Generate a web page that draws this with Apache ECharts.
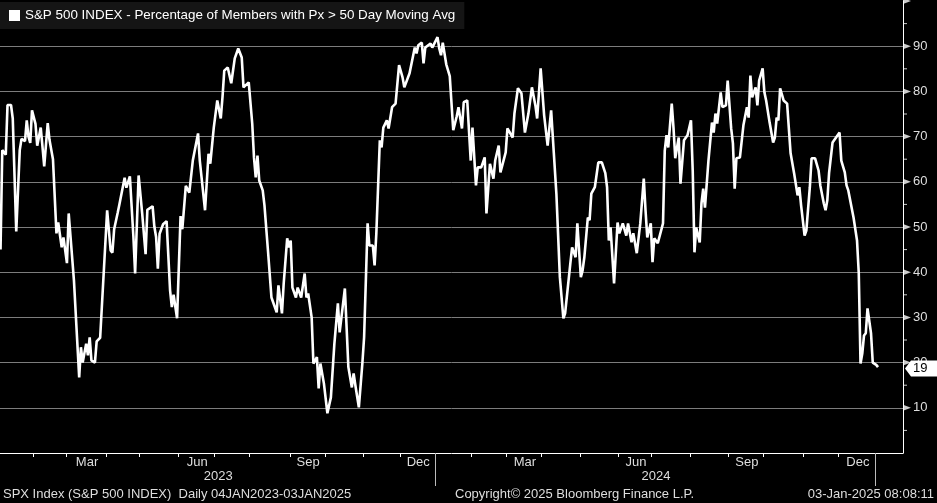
<!DOCTYPE html>
<html><head><meta charset="utf-8">
<script src="https://cdn.jsdelivr.net/npm/echarts@6/dist/echarts.min.js"></script>
<style>html,body{margin:0;padding:0;background:#000}#c{width:937px;height:503px}</style>
</head><body><div id="c"></div><script>
const seriesName = 'S&P 500 INDEX - Percentage of Members with Px > 50 Day Moving Avg';
// trading-day index (0 = 04 Jan 2023) of each value
const dayIndex = [0,1,3,4,6,7,9,11,12,14,15,16,17,18,20,21,23,24,25,27,28,30,32,33,35,36,38,39,42,45,46,47,49,50,51,52,54,55,57,61,63,64,65,67,68,71,72,74,76,77,79,81,83,84,87,88,89,90,91,93,95,97,98,99,101,103,104,106,108,110,113,114,117,119,120,122,124,126,127,128,130,132,134,136,138,139,142,144,145,146,147,148,150,151,153,155,156,158,159,161,162,164,165,166,167,169,170,172,174,175,176,178,179,181,182,183,185,187,189,191,193,194,197,199,201,202,203,205,207,208,210,211,213,214,215,217,218,219,221,222,224,226,228,230,231,234,237,238,239,241,242,243,246,247,250,251,252,253,255,257,259,261,262,264,265,267,269,270,272,273,275,277,278,280,282,283,285,286,289,290,293,294,296,298,300,302,304,306,307,309,311,313,315,318,320,322,323,326,327,329,330,332,333,334,336,337,338,340,342,344,346,347,348,349,351,353,354,356,358,359,361,362,364,366,368,369,370,372,373,374,376,377,379,380,381,382,384,385,386,388,389,391,393,395,396,397,398,400,401,402,403,405,407,408,409,410,412,413,415,416,418,419,420,421,423,425,427,428,429,430,432,433,434,436,437,438,440,442,443,444,445,446,448,449,450,452,454,456,457,458,460,461,463,464,466,468,469,471,472,473,474,476,478,480,481,483,484,485,488,490,491,492,493,494,495,496,497,498,499,500,501,502];
const pctAbove = [45,67,66,77,77,74,49,67,69.5,69,73.6,70,68.6,75.8,72.8,68,72,67.8,63.4,73,69.3,65,48.6,51,45.5,47.7,42,53,38.2,16.7,23.4,20,24.2,21.6,25.6,20.5,20,24.7,25.5,53.7,44.8,44.3,49.5,53.1,55,60.9,58.7,61.2,48,39.7,61.4,53.2,44,53.8,54.6,50.1,47.8,40.8,48.5,50.6,51.3,36,32.3,35,29.8,52.4,49.5,59.1,57.6,64.7,70.7,64.7,53.7,66.2,64,72,78,74,78.8,84.6,85.3,81.8,87.3,89.5,87.5,80.9,82,72.9,65.4,61,65.8,60.3,58.1,54.8,44.8,34.4,34.2,31.1,37.1,30.9,37.5,47.5,45.5,47,36.6,34.4,36.6,34.4,39.7,34.4,35.3,30,19.8,21.2,14.3,19.8,15.4,8.8,12.3,24.2,33.1,26.7,36.4,19,14.5,17.6,15,10.1,19.8,25.6,50.8,45.9,45.9,41.5,48.6,69.2,67.6,72,73.6,71.8,76.5,77.3,85.8,83.1,80.9,84,89.7,88.4,90.2,90.8,86.2,89.7,90.6,89.7,92,89.5,88,90.8,86,83.4,71.4,74.5,76.5,71.8,77.6,78,64.7,72,59.2,63.2,63.2,65.4,53,64,60.7,64.7,68,62.1,66.5,71.8,69.8,75.1,80.7,79.6,70.9,75.1,80.9,76.9,74,85.1,74.7,68,75.8,57.4,38.9,29.8,30.9,42,45.5,43.3,50.8,38.9,40.4,43.3,52.1,51.5,57.4,58.8,64.3,64.3,61.9,58.8,47,49.9,37.5,51,48.6,50.8,48.1,50.8,46.6,48.6,44.2,50.8,60.7,53.7,47.7,50.8,42.2,47.5,46.4,46,50.8,66.9,70.3,67.6,77.3,72,65.2,69.8,59.6,69.2,70.3,73.6,62.5,44.4,49.9,46.6,55.2,58.5,54.3,64.7,73.1,70.9,75.1,72.9,79.8,76.5,76.9,82.4,71.8,68.5,58.5,65.2,65.4,72.5,76.5,74.2,83.5,78.7,80.9,76.9,82.4,85.1,79.8,78,73.1,68.7,69.8,74.2,73.6,80.7,78,77.6,77.3,66.3,61.9,57,58.8,54.8,48.1,49.2,58.8,65.2,65.2,62.5,59.2,55.2,53.7,55.9,61.9,68.7,69.8,70.9,64.7,62.1,59.2,58.1,52.1,47,39.7,19.8,22,26,26.5,32,32,26.5,20,19.8,19.5,19];
// trading-day index of the first session of each month (Feb 2023 .. Jan 2025)
const monthStartIndex = [19,38,61,80,102,123,143,166,186,208,229,249,270,290,310,332,354,373,395,417,437,460,480,501];
const monthLabelIndex = [49.5,112.5,176,239,300,363.5,427,490.5];
const monthLabels = ['Mar','Jun','Sep','Dec','Mar','Jun','Sep','Dec'];
const yearStartIndex = [249,501];
const yearLabelIndex = [124.5,375];
const yearLabels = ['2023','2024'];
const yTickValues = [10,20,30,40,50,60,70,80,90,100];
const yMinorTickValues = [5,15,25,35,45,55,65,75,85,95];
const lastValue = 19;
const footerLeft = 'SPX Index (S&P 500 INDEX)  Daily 04JAN2023-03JAN2025';
const footerMid = 'Copyright\u00A9 2025 Bloomberg Finance L.P.';
const footerRight = '03-Jan-2025 08:08:11';

const X_MIN = -0.3, X_MAX = 516.3;
const FONT = "'Liberation Sans', Arial, sans-serif";
const TXT = '#dedede';
const chart = echarts.init(document.getElementById('c'));
const lineData = dayIndex.map((d, i) => [d, pctAbove[i]]);

chart.setOption({
  backgroundColor: '#000',
  animation: false,
  textStyle: { fontFamily: FONT },
  legend: {
    data: [seriesName], left: 0, top: 2, icon: 'rect', itemWidth: 11, itemHeight: 11,
    backgroundColor: '#151515', padding: [7, 9, 7, 9],
    textStyle: { color: '#fff', fontSize: 13.4, fontFamily: FONT }
  },
  grid: { left: 0, right: 34, top: 1, bottom: 50 },
  xAxis: [{
    type: 'value', min: X_MIN, max: X_MAX, position: 'bottom', offset: 0,
    axisLine: { show: true, onZero: false, lineStyle: { color: '#fff', width: 1 } },
    axisTick: { show: true, length: 4, customValues: monthStartIndex.map(v => v - 0.5), lineStyle: { color: '#fff' } },
    axisLabel: { show: true, margin: 3, color: TXT, fontSize: 13, fontFamily: FONT,
      customValues: monthLabelIndex,
      formatter: v => { const i = monthLabelIndex.indexOf(v); return i >= 0 ? monthLabels[i] : ''; } },
    splitLine: { show: false }
  }, {
    type: 'value', min: X_MIN, max: X_MAX, position: 'bottom', offset: 0,
    axisLine: { show: false, onZero: false },
    axisTick: { show: true, length: 33, customValues: yearStartIndex.map(v => v - 0.5), lineStyle: { color: '#bbb' } },
    axisLabel: { show: true, margin: 17, color: TXT, fontSize: 13, fontFamily: FONT,
      customValues: yearLabelIndex,
      formatter: v => { const i = yearLabelIndex.indexOf(v); return i >= 0 ? yearLabels[i] : ''; } },
    splitLine: { show: false }
  }],
  yAxis: {
    type: 'value', position: 'right', min: 0, max: 100, interval: 10,
    axisLine: { show: true, onZero: false, lineStyle: { color: '#fff', width: 1 } },
    axisTick: { show: false },
    splitLine: { show: true, showMinLine: false, showMaxLine: false, lineStyle: { color: '#7c7c7c', width: 1 } },
    axisLabel: { color: TXT, fontSize: 13, margin: 10, fontFamily: FONT,
      formatter: v => (v === 0 || v === 100) ? '' : String(v) }
  },
  series: [{
    name: seriesName, type: 'line', data: lineData, showSymbol: false,
    lineStyle: { color: '#fff', width: 2.6 }, itemStyle: { color: '#fff' }, z: 3
  }, {
    name: 'ticks', type: 'scatter', data: yTickValues.map(v => [X_MAX, v]),
    symbol: 'path://M0,0L10,5L0,10Z', symbolSize: [8, 6], symbolOffset: [4, 0],
    itemStyle: { color: '#fff' }, clip: false, silent: true, z: 4
  }, {
    name: 'minor', type: 'scatter', data: yMinorTickValues.map(v => [X_MAX, v]),
    symbol: 'rect', symbolSize: [4, 1], symbolOffset: [2, 0],
    itemStyle: { color: '#fff' }, clip: false, silent: true, z: 4
  }]
});

const p = chart.convertToPixel({ gridIndex: 0 }, [X_MAX, lastValue]);
const px = p[0], py = p[1] + 1.5;
chart.setOption({
  graphic: [
    { type: 'polygon', z: 100, shape: { points: [[px + 2, py], [px + 8, py - 8], [937, py - 8], [937, py + 8], [px + 8, py + 8]] },
      style: { fill: '#fff' } },
    { type: 'text', z: 101, x: px + 10, y: py, style: { text: String(lastValue), fill: '#000', fontSize: 13, fontFamily: FONT, verticalAlign: 'middle' } },
    { type: 'text', x: 3, y: 494, style: { text: footerLeft, fill: TXT, fontSize: 13, fontFamily: FONT, verticalAlign: 'middle' } },
    { type: 'text', x: 455, y: 494, style: { text: footerMid, fill: TXT, fontSize: 13, fontFamily: FONT, verticalAlign: 'middle' } },
    { type: 'text', x: 934, y: 494, style: { text: footerRight, fill: TXT, fontSize: 13, fontFamily: FONT, verticalAlign: 'middle', align: 'right' } }
  ]
});
</script></body></html>
